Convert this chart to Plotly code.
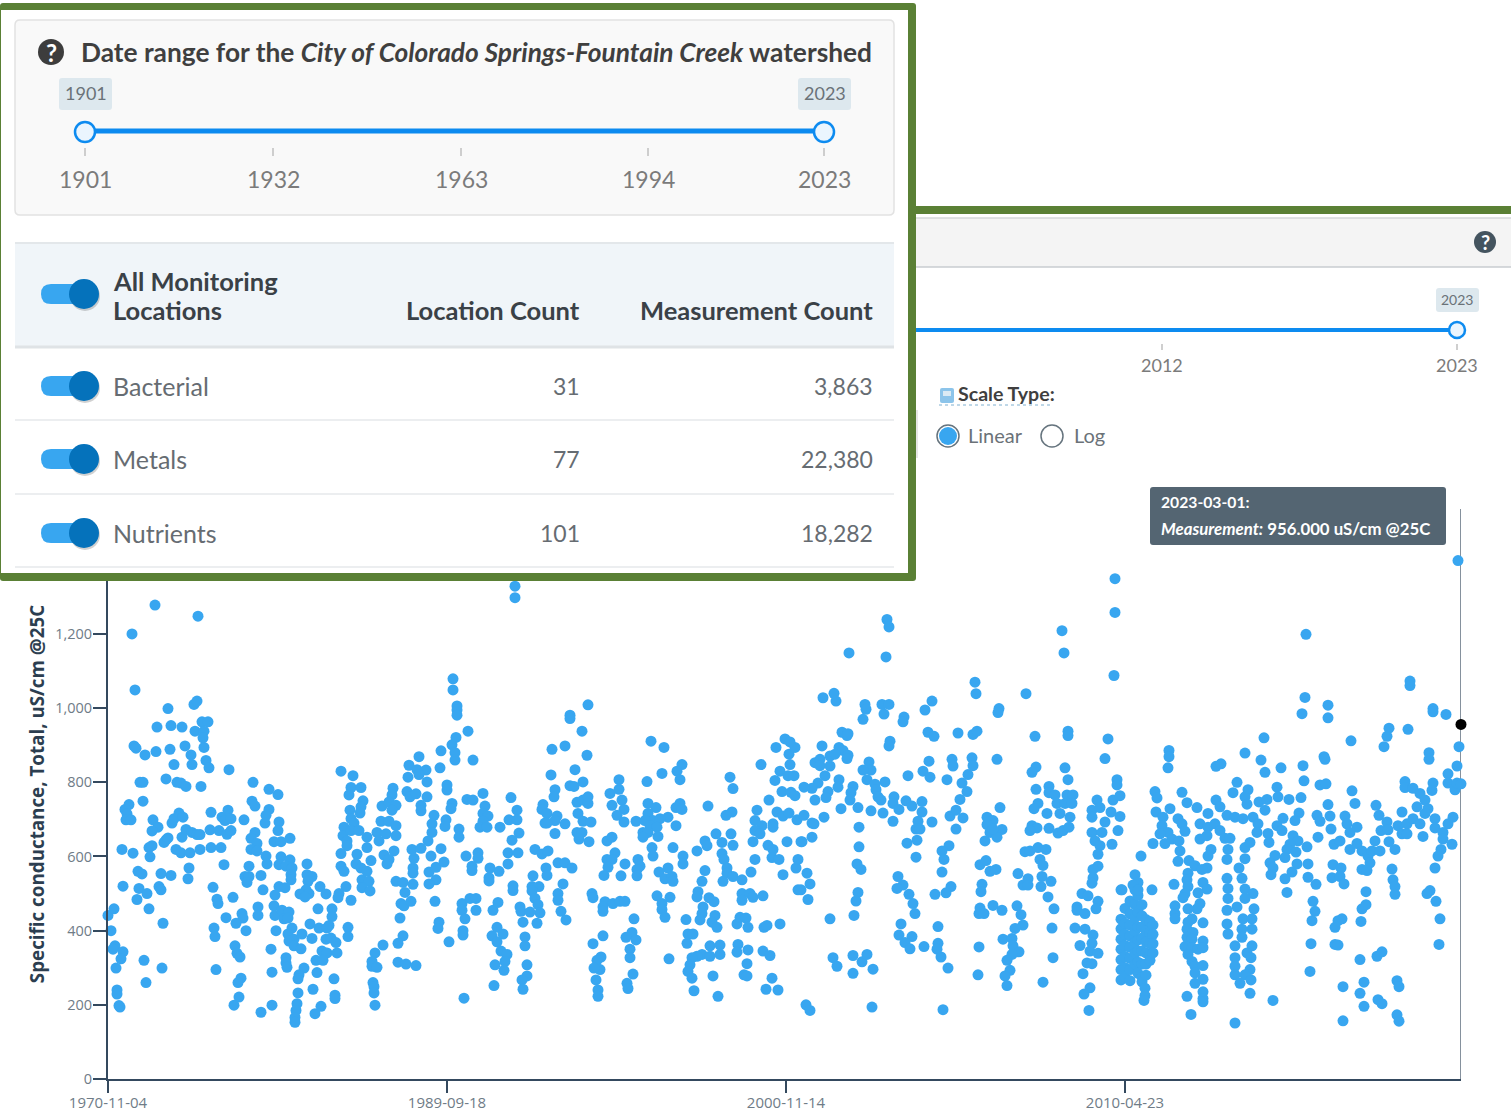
import plotly.graph_objects as go

W, H = 1511, 1113

# x = sample position along the ordinal date axis, y = specific conductance (uS/cm @25C)
samples_1970s = [(0,441),(6,459),(3,400),(7,359),(5,350),(15,343),(13,324),(8,299),(9,240),(9,229),(11,198),(12,194),
(24,1200),(47,1278),(90,1248),(27,1049),(26,898),(28,892),(37,874),(48,883),(49,949),(60,999),(63,953),(74,949),(62,889),(77,898),(83,874),(66,848),(84,848),(86,1010),(89,1019),(87,938),(94,963),(100,963),(96,938),(95,920),(96,894),(98,859),(101,839),(93,789),(58,809),(69,800),(73,798),(78,789),(121,834),(32,800),(35,800),(35,749),(21,740),(17,727),(19,715),(18,699),(23,699),(45,699),(50,679),(44,669),(14,619),(25,609),(30,560),(34,553),(15,520),(31,514),(39,500),(29,484),(41,459),(55,420),(36,320),(38,260),(54,299),(41,624),(44,629),(42,599),(53,554),(63,549),(51,519),(53,510),(56,638),(58,645),(60,650),
(64,690),(66,702),(71,717),(75,706),(68,619),(73,610),(82,610),(74,652),(78,673),(84,665),(89,659),(92,659),(92,619),(81,569),(80,540),
(103,719),(102,672),(103,624),(113,624),(111,670),(116,578),(114,706),(117,697),(120,725),(123,702),(119,660),(123,670),(136,699),(105,517),(109,485),(110,473),(125,490),(118,435),(134,446),(135,434),(128,420),(106,407),(107,384),(138,400),(127,359),(129,339),(132,329),(108,295),(133,272),(130,260),(131,221),(126,199),(153,180),(164,199),(164,288),(163,350),
(145,800),(144,749),(147,736),(161,781),(170,767),(161,727),(158,711),(157,690),(171,693),(170,670),(147,665),(143,649),(149,635),(143,619),(149,615),(158,601),(159,580),(141,574),(153,549),(137,546),(141,546),(139,530),(155,510),(166,640),(173,640),(182,649),(173,599),(182,591),(171,578),(178,574),(184,569),(183,551),(183,537),(171,519),(177,516),(167,496),(150,464),(150,441),(166,467),(167,441),(174,455),(181,450),(176,432),(180,434),(168,400),(184,407),(180,391),(186,377),(181,372),(186,359),(193,351),(194,391),(204,379),(178,327),(178,313),(179,301),(196,299),(191,281),(190,270),(190,232),(189,203),(188,185),(187,166),(187,153),(207,176),(213,196),(205,242),(209,287),(208,320),(199,580),(199,551),(204,546),(200,533),(198,510),(192,499),(201,500),(197,491),(212,519),(218,499),(210,459),(224,459),(224,438),(221,414),(202,418),(211,407),(219,407),(218,377),(223,380),(228,368),(214,345),(219,340),(229,340),(215,320),(226,270),(227,226),(227,217)]

samples_1980s = [(233,830),(245,818),(243,786),(253,786),(241,766),(255,750),(253,734),(242,725),(252,717),(243,702),(236,679),(246,690),(235,656),(243,670),(239,642),(251,670),(239,629),(259,652),(233,608),(249,606),(259,624),(263,589),(233,574),(236,560),(248,580),(253,569),(259,560),(254,537),(261,533),(238,519),(254,516),(262,507),(231,500),(230,489),(243,482),(240,409),(240,384),(275,361),(267,340),(264,317),(264,304),(269,301),(265,260),(266,249),(266,232),(267,199),
(274,736),(285,784),(284,766),(281,747),(288,738),(284,725),(273,695),(281,695),(288,683),(269,665),(278,661),(271,642),(288,656),(276,604),(286,615),(281,592),(279,580),(288,533),(295,530),(297,503),(293,473),(296,467),(303,479),(292,434),(295,386),(290,366),(290,315),(298,310),(308,306),
(301,846),(311,869),(300,814),(309,834),(318,833),(311,821),(319,801),(299,775),(302,761),(308,769),(319,761),(313,738),(313,723),(304,619),(306,595),(305,569),(305,555),(305,525),(326,711),(324,688),(324,665),(320,642),(313,622),(323,601),(321,558),(328,571),(336,585),(333,621),(328,537),(321,526),(327,479),(331,423),(330,406),(341,370),(333,885),(332,839),(339,793),(339,779),(344,743),(343,729),(338,699),(337,681),(345,1079),(345,1049),(349,1006),(349,995),(349,981),(348,921),(344,901),(347,880),(347,860),(351,674),(351,652)]

samples_1990s = [(407,1329),(407,1298),(480,1009),(462,981),(462,972),(360,938),(365,860),(444,889),(457,898),(474,938),(479,873),(443,820),(467,834),(475,801),(462,791),(466,789),(447,780),(446,761),(375,770),(359,754),(365,752),(377,736),(403,759),(409,725),(435,740),(434,727),(439,716),(449,709),(401,699),(409,699),(375,716),(380,709),(375,695),(372,679),(379,679),(392,679),(437,690),(447,697),(439,690),(457,688),(447,662),(411,663),(404,644),(469,746),(475,752),(480,761),(480,743),(470,716),(475,695),(483,693),(469,665),(474,665),(471,647),(481,640),
(358,601),(370,610),(370,595),(364,574),(364,562),(382,569),(391,560),(381,543),(381,534),(400,580),(400,610),(410,610),(427,619),(434,607),(440,615),(450,583),(457,583),(464,569),(438,569),(439,549),(425,548),(405,521),(405,508),(431,519),(424,519),(424,507),(455,526),(450,500),(450,482),(427,487),(430,470),(432,448),(354,473),(362,487),(368,487),(354,455),(368,455),(357,432),(385,455),(390,476),(412,464),(413,452),(422,450),(415,423),(429,420),(453,452),(458,429),(389,409),(395,391),(384,386),(389,370),(355,400),(355,388),(417,383),(417,359),(393,345),(399,336),(397,317),(387,308),(396,293),(419,308),(419,278),(414,267),(415,242),(386,252),(356,218),
(484,500),(485,489),(497,478),(495,464),(495,452),(505,473),(512,479),(517,479),(499,642),(504,652),(507,610),(499,592),(504,592),(500,571),(517,580),(496,549),(513,548),(530,592),(532,574),(529,565),(529,548),(511,807),(511,781),(502,770),(504,738),(514,752),(516,727),(509,711),(516,693),(528,695),(543,911),(556,894),(574,848),(554,824),(569,830),(572,807),(539,802),(540,743),(548,732),(572,743),(568,732),(574,727),(560,706),(540,716),(545,697),(537,697),(552,702),(542,683),(549,679),(535,665),(540,665),(535,652),(550,654),(568,683),(565,624),(544,624),(545,601),(575,601),(575,580),(560,569),(551,558),(557,540),(564,546),(565,533),(549,494),(562,490),(554,473),(554,457),(557,436),(578,430),(526,432),(524,395),(518,382),(528,375),(495,386),(485,365),(522,350),(522,327),(561,324),(493,329),(489,320),(492,295),(486,299),(488,267),(490,240),(490,223),(525,283),(519,258),(520,244),
(580,391),(585,391),(579,366),(602,359),(612,361),(594,336),(589,331),(584,327),(602,331),(612,336),(582,308),(580,290),(584,272),(586,238),(605,278),(610,223),
(600,736),(608,661),(623,661),(597,642),(589,615),(599,629),(614,638),(625,630),(614,608),(616,592),(597,562),(619,569),(619,555),(615,533),(625,546),(634,537),(594,533),(590,505),(589,491),(601,489),(606,478),(595,464),(594,446),(592,429),(607,441),(604,423),(609,409),(634,500),(634,482),(642,500),(645,490),(655,494),(629,418),(632,436),(638,434),(640,409),(656,409),(659,414),(672,418),(630,363),(629,342),(640,348),(655,345),(662,333),(639,311),(636,281),(639,278),(664,272),(658,242),(670,240),
(622,814),(625,783),(624,720),(618,711),(653,848),(668,894),(649,725),(647,697),(654,683),(647,670),(652,661),(645,640),(647,592),(643,558),(661,752),(665,688),(665,679),(660,630),(665,619),(664,597),(671,592),(675,551),(679,640),(690,510),(688,569),(690,592),(693,640),(669,720),(675,709),(681,717),(689,699),(674,775),(683,773),(687,764),(667,805),(672,830),(680,818),(686,818),(682,848),(681,876),(687,894),(677,917),(682,909)]

samples_2000s = [(779,1239),(781,1219),(778,1138),(741,1149),(954,1209),(956,1149),(1007,1349),(1007,1258),(1006,1088),
(715,1028),(726,1040),(728,1019),(757,1010),(758,997),(755,970),(774,1010),(781,1010),(776,984),(796,976),(795,963),(824,1019),(817,995),(867,1070),(868,1039),(918,1039),(891,999),(890,988),(960,938),(960,926),(1000,917),(997,864),(927,924),
(714,898),(734,935),(739,926),(740,931),(782,911),(781,898),(820,935),(826,924),(850,933),(865,929),(869,938),(889,862),(844,862),(845,844),(821,857),(864,866),(865,845),(860,821),(839,807),(800,818),(815,830),(822,814),(777,801),(761,855),(763,833),(755,833),(731,894),(735,886),(740,873),(739,864),(722,871),(727,876),(707,853),(712,862),(712,845),(722,844),(717,818),(731,807),(710,798),(704,784),(696,787),(730,787),(720,775),(718,759),(707,752),(745,789),(743,772),(742,752),(759,807),(767,795),(768,780),(770,761),(773,752),(786,761),(785,743),(791,727),(798,750),(804,736),(814,748),(814,720),(733,729),(750,732),(763,723),(775,717),(716,706),(696,711),(704,690),(706,688),(785,695),(751,679),(704,652),(694,640),(751,626),(699,555),(702,526),(693,510),(700,484),(749,580),(753,565),(750,503),(748,480),(722,432),(746,441),(725,327),(729,304),(745,333),(754,316),(759,336),(765,296),(745,285),(698,200),(702,185),(764,194),
(810,695),(808,674),(812,674),(809,644),(799,636),(808,598),(824,693),(842,709),(848,725),(855,704),(848,674),(852,754),(859,775),(854,798),(841,629),(834,615),(836,592),(834,558),(790,546),(795,523),(789,514),(801,498),(805,473),(807,446),(843,519),(838,502),(827,498),(793,418),(830,411),(791,388),(804,384),(797,368),(802,351),(816,357),(830,366),(829,350),(833,329),(840,299),(835,187),
(892,732),(879,706),(885,697),(879,686),(894,673),(882,665),(889,652),(877,642),(885,674),(872,578),(878,589),(882,560),(888,565),(874,525),(873,505),(871,446),(872,461),(876,446),(885,468),(894,455),(871,356),(870,281),
(909,467),(913,443),(915,415),(907,406),(895,377),(904,379),(905,359),(911,343),(904,336),(899,320),(902,293),(897,278),(899,252),
(910,554),(920,540),(915,523),(920,523),(917,613),(922,615),(930,624),(938,619),(932,592),(935,576),(934,546),(933,519),(943,533),(940,491),(946,459),(944,407),(945,327),(935,261),
(928,841),(924,827),(928,781),(930,743),(926,729),(939,716),(924,683),(929,677),(922,670),(941,676),(950,663),(955,670),(941,789),(941,772),(947,766),(949,743),(952,716),(957,839),(960,807),(959,766),(965,766),(957,743),(964,743),(962,706),(961,679),
(984,725),(989,752),(992,732),(984,706),(997,693),(984,665),(994,665),(987,642),(992,629),(1005,752),(1012,764),(1009,807),(1009,793),(1003,720),(1012,708),(1010,670),(1004,633),(990,606),(990,574),(985,565),(985,542),(984,528),(1013,510),(974,500),(980,494),(990,479),(969,464),(969,455),(977,446),(988,459),(967,407),(977,404),(985,388),(972,360),(984,366),(982,345),(990,339),(979,313),(984,311),(975,284),(982,246),(976,229),(981,185)]

samples_2010s = [(1013,431),(1013,405),(1013,377),(1013,350),(1013,322),(1013,295),(1013,267),
(1017,460),(1017,420),(1017,390),(1017,360),(1017,330),(1017,300),(1017,275),
(1022,480),(1022,445),(1022,415),(1022,385),(1022,355),(1022,325),(1022,295),(1022,265),
(1027,551),(1027,510),(1027,470),(1027,435),(1027,400),(1027,370),(1027,340),(1027,310),
(1030,530),(1030,495),(1030,450),(1030,410),(1030,375),(1030,345),(1030,315),(1030,285),
(1034,470),(1034,440),(1034,410),(1034,380),(1034,345),(1034,310),(1034,275),(1034,262),
(1038,430),(1038,400),(1038,370),(1038,340),(1038,310),(1038,280),(1037,245),(1037,225),(1036,212),
(1042,425),(1042,395),(1042,365),(1042,335),(1042,320),(1045,415),(1045,390),(1045,365),(1045,340),
(1044,510),(1025,523),(1014,510),(1033,601),(1030,510),
(1061,886),(1061,869),(1060,839),(1047,775),(1049,758),(1074,773),(1079,745),(1089,732),(1048,720),(1062,729),(1055,706),(1070,702),(1054,683),(1074,688),(1077,668),(1060,665),(1052,661),(1045,635),(1057,635),(1064,647),(1071,642),(1072,615),(1070,587),(1081,589),(1087,575),(1099,569),(1094,565),(1080,555),(1079,537),(1066,525),(1080,519),(1077,500),(1075,489),(1095,530),(1099,512),(1090,502),(1092,473),(1089,459),(1080,459),(1067,467),(1067,446),(1067,432),(1095,421),
(1080,423),(1084,432),(1079,404),(1085,395),(1079,382),(1084,377),(1077,357),(1084,354),(1090,350),(1095,372),(1095,354),(1080,336),(1084,317),(1087,304),(1095,306),(1087,286),(1095,269),(1087,258),(1079,223),(1095,235),(1095,217),(1095,208),(1083,174),
(1108,843),(1113,850),(1137,879),(1156,920),(1153,860),(1157,827),(1173,839),(1195,845),(1196,804),(1198,1199),(1197,1029),(1194,985),(1220,1008),(1220,974),(1216,869),(1217,862),(1243,912),(1281,946),(1279,924),(1276,896),(1302,1073),(1302,1061),(1300,943),(1325,999),(1325,990),(1338,983),(1321,880),(1321,862),(1351,896),(1349,844),(1340,823),(1350,1398),
(1129,800),(1125,772),(1140,780),(1137,761),(1139,741),(1108,752),(1112,734),(1100,716),(1119,711),(1127,706),(1135,702),(1145,706),(1151,747),(1159,754),(1157,725),(1150,688),(1149,665),(1169,787),(1170,761),(1181,754),(1193,759),(1212,793),(1218,796),(1244,777),(1247,743),(1220,740),(1191,717),(1187,697),(1175,703),(1209,711),(1212,695),(1222,709),(1223,674),(1169,683),(1174,670),(1160,662),(1161,638),(1210,652),(1226,633),(1185,656),(1190,642),(1199,626),(1182,633),(1179,619),(1188,612),(1167,603),(1162,583),(1177,597),(1189,580),(1200,580),(1165,569),(1184,558),(1163,551),(1177,540),(1200,544),(1208,525),(1179,503),(1205,479),(1207,452),(1204,427),(1203,365),(1202,290),(1165,212),(1127,151),(1142,231),
(1092,647),(1092,688),(1100,679),(1107,688),(1112,670),(1099,656),(1117,649),(1122,649),(1103,619),(1100,601),(1120,619),(1119,592),(1137,624),(1142,638),(1137,594),(1131,569),(1119,541),(1134,541),(1120,514),(1137,512),(1145,500),(1120,487),(1137,487),(1129,464),(1119,455),(1146,459),(1119,418),(1120,391),(1135,432),(1144,432),(1144,404),(1134,404),(1134,382),(1127,359),(1144,359),(1139,340),(1127,327),(1143,327),(1127,304),(1142,295),(1127,281),(1137,281),(1143,267),(1132,258),
(1235,249),(1252,231),(1256,261),(1256,196),(1235,157),(1252,322),(1270,214),(1274,203),(1269,331),(1274,343),(1289,265),(1291,249),(1289,173),(1291,156),(1227,409),(1230,427),(1234,432),(1227,363),(1230,361),(1253,425),(1254,459),(1258,470),(1258,505),
(1225,578),(1233,569),(1224,543),(1232,546),(1236,526),(1237,709),(1239,688),(1249,679),(1232,642),(1242,665),(1242,619),(1249,635),(1254,615),(1260,601),(1264,615),(1267,642),(1272,615),(1262,583),(1254,565),(1259,562),(1268,738),(1271,711),(1279,693),(1273,670),(1280,672),(1281,640),(1287,619),(1284,566),(1285,537),(1287,519),(1287,498),
(1297,802),(1297,786),(1305,784),(1312,770),(1317,752),(1320,729),(1309,734),(1294,720),(1290,683),(1299,688),(1305,702),(1312,688),(1317,716),(1294,661),(1299,661),(1315,654),(1325,798),(1324,778),(1327,702),(1327,677),(1335,665),(1340,688),(1345,706),(1335,647),(1344,633),(1340,798),(1347,780),(1349,798),(1353,796),
(1333,619),(1330,601),(1327,569),(1322,508),(1319,500),(1328,479),(1332,432),(1331,363)]

tick_positions = [0, 339, 678, 1017]
tick_dates = ["1970-11-04", "1989-09-18", "2000-11-14", "2010-04-23"]
y_ticks = [0, 200, 400, 600, 800, 1000, 1200]
hover_sample, hover_value = 1353, 956
Y_MAX, X_MAX = 1537, 1353

table_rows = [("Bacterial", "31", "3,863"), ("Metals", "77", "22,380"), ("Nutrients", "101", "18,282")]
main_slider_ticks = ["1901", "1932", "1963", "1994", "2023"]
side_slider_ticks = ["2012", "2023"]

BLUE = "#38a6f0"; SLIDER = "#0d8bf0"; GREEN = "#5a8035"; FONT = "Lato"
TICK = "#34495e"

all_samples = samples_1970s + samples_1980s + samples_1990s + samples_2000s + samples_2010s
xs = [p[0] for p in all_samples]
ys = [p[1] for p in all_samples]

fig = go.Figure()
fig.add_trace(go.Scatter(x=xs, y=ys, mode="markers", cliponaxis=False,
                         marker=dict(color=BLUE, size=11, line=dict(width=0)), showlegend=False))
fig.add_trace(go.Scatter(x=[hover_sample], y=[hover_value], mode="markers", cliponaxis=False,
                         marker=dict(color="#000000", size=11), showlegend=False))

shapes, notes = [], []
px = lambda v: v / W
py = lambda v: 1 - v / H


def rect(x0, y0, x1, y1, fill, line=None, lw=1, r=0):
    base = dict(xref="paper", yref="paper", layer="above", fillcolor=fill,
                line=dict(color=line or "rgba(0,0,0,0)", width=lw if line else 0))
    if r:
        p = (f"M{px(x0+r)},{py(y0)} L{px(x1-r)},{py(y0)} Q{px(x1)},{py(y0)} {px(x1)},{py(y0+r)} "
             f"L{px(x1)},{py(y1-r)} Q{px(x1)},{py(y1)} {px(x1-r)},{py(y1)} "
             f"L{px(x0+r)},{py(y1)} Q{px(x0)},{py(y1)} {px(x0)},{py(y1-r)} "
             f"L{px(x0)},{py(y0+r)} Q{px(x0)},{py(y0)} {px(x0+r)},{py(y0)} Z")
        shapes.append(dict(type="path", path=p, **base))
    else:
        shapes.append(dict(type="rect", x0=px(x0), x1=px(x1), y0=py(y0), y1=py(y1), **base))


def circ(cx, cy, r, fill, line=None, lw=1, opacity=1):
    shapes.append(dict(type="circle", xref="paper", yref="paper", layer="above", fillcolor=fill, opacity=opacity,
                       x0=px(cx-r), x1=px(cx+r), y0=py(cy+r), y1=py(cy-r),
                       line=dict(color=line or "rgba(0,0,0,0)", width=lw if line else 0)))


def seg(x0, y0, x1, y1, color, lw=1, dash="solid"):
    shapes.append(dict(type="line", xref="paper", yref="paper", layer="above",
                       x0=px(x0), x1=px(x1), y0=py(y0), y1=py(y1), line=dict(color=color, width=lw, dash=dash)))


def txt(x, y, s, size, color, anchor="left", family=FONT):
    notes.append(dict(xref="paper", yref="paper", x=px(x), y=py(y), text=s, showarrow=False, xanchor=anchor,
                      yanchor="middle", font=dict(family=family, size=size, color=color),
                      borderpad=0, borderwidth=0))


def help_icon(cx, cy, r, fill, size):
    circ(cx, cy, r, fill)
    txt(cx, cy, "<b>?</b>", size, "#ffffff", "center")


def toggle(cy):
    rect(41, cy-10, 88, cy+10, BLUE, r=10)
    circ(85, cy+2, 15, "#000000", opacity=0.18)
    circ(84, cy, 15, "#0572bb")


# right-hand card behind the overlay
rect(915, 206, W, 214, GREEN)
rect(915, 218, W, 267, "#f4f4f4")
seg(915, 218, W, 218, "#d5d8da", 1.5)
seg(915, 267, W, 267, "#c9cdd0", 1.5)
help_icon(1485, 242, 11, "#44545f", 20)
seg(915, 330, 1457, 330, SLIDER, 4)
circ(1457, 330, 8, "#eaf5fe", SLIDER, 2.5)
rect(1436, 288, 1479, 312, "#dde8ee", r=3)
txt(1457, 299, "2023", 14, "#6a7278", "center")
seg(1162, 344, 1162, 350, "#bfbfbf", 1.5)
seg(1457, 344, 1457, 350, "#bfbfbf", 1.5)
for x_, label in zip([1162, 1457], side_slider_ticks):
    txt(x_, 365, label, 18, "#7b7b7b", "center")
rect(916, 410, 918, 458, "#e6e6e6")
rect(940, 388, 954, 403, "#8cc4ea", r=2)
rect(943, 391, 951, 396, "#dbeaf4")
txt(958, 394, "<b>Scale Type:</b>", 19.6, "#3f3f3f")
seg(939, 405, 1050, 405, "#7fb0d0", 1, "dot")
circ(948, 436, 11, "#ffffff", "#66747e", 1.5)
circ(948, 436, 9, BLUE)
txt(968, 435, "Linear", 20, "#6b7278")
circ(1052, 436, 11, "#ffffff", "#66747e", 1.5)
txt(1074, 435, "Log", 20, "#6b7278")

# tooltip
rect(1150, 487, 1446, 545, "#546572", r=3)
txt(1161, 502, "<b>2023-03-01:</b>", 15.7, "#ffffff")
txt(1161, 528, "<b><i>Measurement:</i> 956.000 uS/cm @25C</b>", 16.8, "#ffffff")

# left overlay panel
rect(0, 3, 916, 581, GREEN, r=3)
rect(1, 10, 908, 573, "#ffffff")
rect(15, 20, 894, 215, "#f9f9f9", "#e2e2e2", 1.5, r=5)
help_icon(51, 52, 13, "#3d3d3d", 24)
txt(81, 52, "<b>Date range for the <i>City of Colorado Springs-Fountain Creek</i> watershed</b>", 26.3, "#3f3f3f")
rect(59, 78, 112, 110, "#dde8ee", r=3)
txt(85.5, 93, "1901", 18, "#6a7278", "center")
rect(798, 78, 851, 110, "#dde8ee", r=3)
txt(824.5, 93, "2023", 18, "#6a7278", "center")
seg(85, 131, 824, 131, SLIDER, 5)
circ(85, 132, 10, "#eaf5fe", SLIDER, 2.5)
circ(824, 132, 10, "#eaf5fe", SLIDER, 2.5)
for x_, label in zip([85, 273, 461, 648, 824], main_slider_ticks):
    seg(x_, 148, x_, 156, "#bfbfbf", 1.5)
    txt(x_, 179, label, 23, "#7b7b7b", "center")
rect(15, 243, 894, 347, "#f0f5f9")
seg(15, 243, 894, 243, "#e3e7ea", 2)
seg(15, 347, 894, 347, "#dfe3e6", 3)
toggle(294)
txt(113, 281, "<b>All Monitoring</b>", 25.5, "#3a4147")
txt(113, 310, "<b>Locations</b>", 25.5, "#3a4147")
txt(580, 310, "<b>Location Count</b>", 25.5, "#3a4147", "right")
txt(873, 310, "<b>Measurement Count</b>", 25.5, "#3a4147", "right")
for (name, locs, meas), cy, sep in zip(table_rows, [386, 459, 533], [420, 494, 567]):
    toggle(cy)
    txt(113, cy, name, 25, "#666c72")
    txt(580, cy, locs, 23, "#666c72", "right")
    txt(873, cy, meas, 23, "#666c72", "right")
    seg(15, sep, 894, sep, "#e6e9eb", 1.5)

# hover crosshair uses the data scales
shapes.insert(0, dict(type="line", xref="x", yref="y", layer="below", x0=hover_sample, x1=hover_sample,
                      y0=0, y1=Y_MAX, line=dict(color="#5d6d7c", width=1.5)))

fig.update_layout(
    width=W, height=H, autosize=False, paper_bgcolor="#ffffff", plot_bgcolor="#ffffff", showlegend=False,
    margin=dict(l=0, r=0, t=0, b=0, pad=0, autoexpand=False), font=dict(family="Open Sans"),
    shapes=shapes, annotations=notes,
    xaxis=dict(domain=[108 / W, 1461 / W], range=[0, X_MAX], tickmode="array", tickvals=tick_positions,
               ticktext=tick_dates, showgrid=False, zeroline=False, showline=True, linecolor=TICK, linewidth=2,
               ticks="outside", ticklen=12, tickwidth=2, tickcolor=TICK, automargin=False, ticklabelstandoff=-3,
               tickfont=dict(family="Open Sans", size=15, color="#6f7c87")),
    yaxis=dict(domain=[1 - 1079 / H, 1 - 509 / H], range=[0, Y_MAX], tickmode="array", tickvals=y_ticks,
               tickformat=",d", showgrid=False, zeroline=False, showline=True, linecolor=TICK, linewidth=2,
               ticks="outside", ticklen=13, tickwidth=2, tickcolor=TICK, automargin=False, ticklabelstandoff=-2,
               tickfont=dict(family="Open Sans", size=14.5, color="#6f7c87"),
               title=dict(text="<b>Specific conductance, Total, uS/cm @25C</b>", standoff=6,
                          font=dict(family="Open Sans", size=18.8, color="#2c3e50"))),
)
fig.write_html("out.html", config=dict(displayModeBar=False),
               post_script="document.body.style.margin='0';document.body.style.overflow='hidden';")
